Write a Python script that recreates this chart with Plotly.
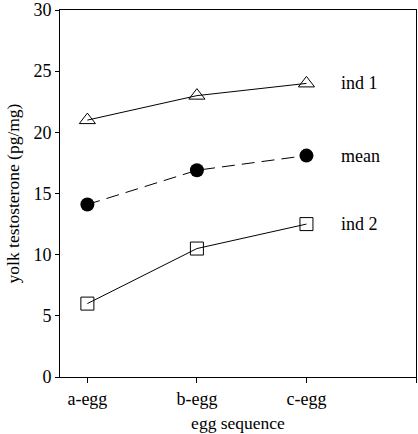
import plotly.graph_objects as go

categories = ["a-egg", "b-egg", "c-egg"]
ind1 = [21.0, 23.0, 24.0]
mean = [14.1, 16.9, 18.1]
ind2 = [6.0, 10.5, 12.5]
series_labels = ["ind 1", "mean", "ind 2"]
yticks = [0, 5, 10, 15, 20, 25, 30]

xs = list(range(len(categories)))
fam = "Liberation Serif, Times New Roman, serif"
tick_font = dict(family=fam, size=18, color="black")
title_font = dict(family=fam, size=17.5, color="black")

fig = go.Figure()
fig.add_trace(go.Scatter(x=xs, y=ind1, mode="lines+markers", cliponaxis=False,
                         line=dict(color="black", width=1),
                         marker=dict(symbol="triangle-up-open", size=14, color="black", line=dict(width=1))))
fig.add_trace(go.Scatter(x=xs, y=mean, mode="lines+markers", cliponaxis=False,
                         line=dict(color="black", width=1, dash="13px,7px"),
                         marker=dict(symbol="circle", size=14, color="black")))
fig.add_trace(go.Scatter(x=xs, y=ind2, mode="lines+markers", cliponaxis=False,
                         line=dict(color="black", width=1),
                         marker=dict(symbol="square-open", size=13, color="black", line=dict(width=1))))

for lab, ser in zip(series_labels, [ind1, mean, ind2]):
    fig.add_annotation(x=xs[-1] + 0.3, y=ser[-1], text=lab, showarrow=False,
                       xanchor="left", yanchor="middle", font=tick_font)

fig.update_layout(
    width=418, height=434,
    margin=dict(l=60, r=2, t=10, b=57),
    paper_bgcolor="white", plot_bgcolor="white",
    showlegend=False, font=tick_font,
    xaxis=dict(range=[-0.25, 3], tickvals=xs + [3], ticktext=categories + [""],
               showgrid=False, zeroline=False, showline=True, mirror=True,
               linecolor="black", linewidth=1, ticks="outside", ticklen=5,
               tickcolor="black", automargin=False, tickfont=tick_font,
               title=dict(text="egg sequence", font=title_font, standoff=9)),
    yaxis=dict(range=[0, 30], tickvals=yticks, showgrid=False, zeroline=False,
               showline=True, mirror=True, linecolor="black", linewidth=1,
               ticks="outside", ticklen=4, tickcolor="black", automargin=False,
               tickfont=tick_font,
               title=dict(text="yolk testosterone (pg/mg)", font=title_font, standoff=9)),
)

fig.write_html("out.html", config={"responsive": False, "displayModeBar": False},
               post_script="document.body.style.margin='0';document.body.style.overflow='hidden';")
